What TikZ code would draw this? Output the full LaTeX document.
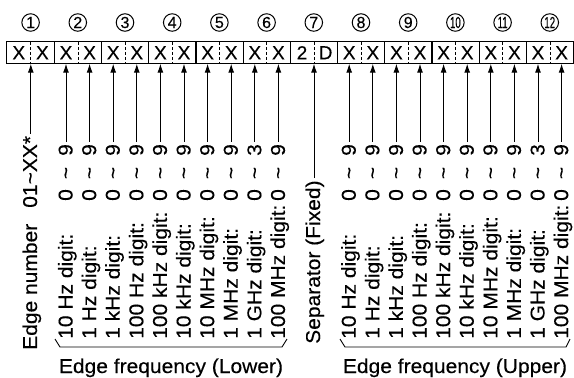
\documentclass[tikz,border=0pt]{standalone}
\usepackage{fontspec}
\setmainfont[FakeBold=0.2]{Liberation Sans}
\newfontfamily\labfont[FakeStretch=1.05,FakeBold=0.25]{Liberation Sans}
\usetikzlibrary{arrows.meta,calc}

\begin{document}
\begin{tikzpicture}[
    x=1pt, y=-1pt,
    >={Latex[length=9pt,width=6pt]},
    cell/.style={minimum width=23.6pt, minimum height=21.5pt, inner sep=0pt,
      font=\fontsize{19}{20}\selectfont},
    frame/.style={line width=1.2pt},
    halfline/.style={line width=0.9pt, dash pattern=on 3pt off 2pt},
    num/.style={circle, draw, line width=1pt, minimum size=17.5pt, inner sep=0pt,
      font=\fontsize{16}{16}\selectfont},
    vlab/.style={rotate=90, anchor=base west, inner sep=0pt,
      font=\labfont\fontsize{20}{22}\selectfont},
    vval/.style={rotate=90, anchor=base, inner sep=0pt,
      font=\labfont\fontsize{20}{22}\selectfont},
    grouplab/.style={anchor=base, inner sep=0pt,
      font=\labfont\fontsize{20}{22}\selectfont},
    arr/.style={->, line width=1pt, shorten <=2pt},
    brace/.style={line width=0.9pt, line join=miter},
  ]
  \useasboundingbox (0,0) rectangle (574,378);

  % --- data cells ---
  \foreach \c [count=\i] in {X,X,X,X,X,X,X,X,X,X,X,X,2,D,X,X,X,X,X,X,X,X,X,X}
    \node[cell] (b\i) at ({7+23.6*(\i-0.5)},52.75) {\c};
  \draw[frame] (b1.north west) rectangle (b24.south east);
  \foreach \i in {2,4,...,22}
    \draw[frame] (b\i.north east) -- (b\i.south east);
  \foreach \i in {1,3,...,23}
    \draw[halfline] (b\i.north east) -- (b\i.south east);

  % --- circled field numbers ---
  \foreach \k in {1,...,12}
    \node[num] (n\k) at ({7+47.2*(\k-0.5)},22.5)
      {\ifnum\k>9 \scalebox{.6}[1]{\k}\else\k\fi};

  % --- edge number and separator ---
  \node[vlab] (enum) at (37,350) {Edge number\hspace{16pt}01\textasciitilde XX*};
  \draw[arr] (b1.south east |- enum.east) -- (b1.south east);
  \node[vlab] (sep) at (320,344) {Separator (Fixed)};
  \draw[arr] (b13.south east |- sep.east) -- (b13.south east);

  % --- frequency digits, lower and upper ---
  \foreach \lab/\hi [count=\j] in {10 Hz digit:/9, 1 Hz digit:/9, 1 kHz digit:/9,
      100 Hz digit:/9, 100 kHz digit:/9, 10 kHz digit:/9, 10 MHz digit:/9,
      1 MHz digit:/9, 1 GHz digit:/3, 100 MHz digit:/9}{
    \foreach \g/\o in {lo/2, up/14}{
      \pgfmathtruncatemacro{\c}{\j+\o}
      \pgfmathsetmacro{\bx}{7+23.6*(\c-0.5)+6.5}
      \node[vlab] (\g lab\j) at (\bx,339) {\lab};
      \node[vval] (\g zero\j) at (\bx,195) {0};
      \node[vval] (\g tilde\j) at (\bx,173) {\textasciitilde};
      \node[vval] (\g top\j) at (\bx,150) {\hi};
      \draw[arr] (b\c.south |- \g top\j.east) -- (b\c.south);
    }
  }

  % --- group braces ---
  \draw[brace] (55,339) -- (60,347) -- (282,347) -- (287,339);
  \draw[brace] (340,339) -- (345,347) -- (566,347) -- (570,339);
  \node[grouplab] (lower) at (171,373) {Edge frequency (Lower)};
  \node[grouplab] (upper) at (455,373) {Edge frequency (Upper)};
\end{tikzpicture}
\end{document}
